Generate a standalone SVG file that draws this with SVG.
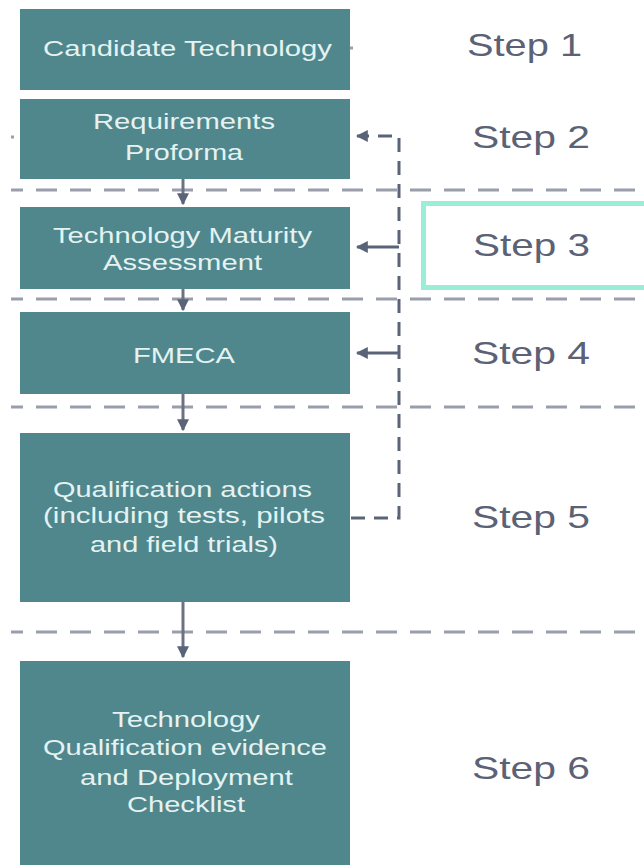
<svg xmlns="http://www.w3.org/2000/svg" width="644" height="865" viewBox="0 0 644 865">
<style>
.box{fill:#4f878d}
.bt{font-family:"Liberation Sans",Arial,sans-serif;font-size:22px;fill:#e4f3f1;text-anchor:start}
.st{font-family:"Liberation Sans",Arial,sans-serif;font-size:32px;fill:#5b6275}
.sep{stroke:#9a9eab;stroke-width:3;stroke-dasharray:21 13;fill:none}
.flow{stroke:#6c7282;stroke-width:3;fill:none}
.fb{stroke:#5a6478;stroke-width:3;fill:none;stroke-dasharray:14 9}
.fbs{stroke:#5a6478;stroke-width:3;fill:none}
</style>
<defs>
<marker id="ah" viewBox="0 0 10 10" refX="9" refY="5" markerWidth="4" markerHeight="4" orient="auto" markerUnits="strokeWidth">
<path d="M0,0 L10,5 L0,10 z" fill="#5a6478"/>
</marker>
</defs>
<rect width="644" height="865" fill="#ffffff"/>
<g id="separators">
<line class="sep" x1="11" y1="190" x2="644" y2="190" stroke-dashoffset="9"/>
<line class="sep" x1="11" y1="299" x2="644" y2="299" stroke-dashoffset="9"/>
<line class="sep" x1="11" y1="407" x2="644" y2="407" stroke-dashoffset="9"/>
<line class="sep" x1="11" y1="632" x2="644" y2="632" stroke-dashoffset="9"/>
</g>
<g id="step3-highlight">
<rect x="423.5" y="203.5" width="240" height="84" fill="none" stroke="#98eed6" stroke-width="5"/>
</g>
<g id="node1">
<rect class="box" x="20" y="9" width="330" height="81"/>
<text class="bt" x="43" y="56" textLength="289" lengthAdjust="spacingAndGlyphs">Candidate Technology</text>
</g>
<g id="node2">
<rect class="box" x="20" y="99" width="330" height="80"/>
<text class="bt" x="93" y="129" textLength="182" lengthAdjust="spacingAndGlyphs">Requirements</text>
<text class="bt" x="125" y="160" textLength="118" lengthAdjust="spacingAndGlyphs">Proforma</text>
</g>
<g id="node3">
<rect class="box" x="20" y="207" width="330" height="82"/>
<text class="bt" x="53" y="243" textLength="259" lengthAdjust="spacingAndGlyphs">Technology Maturity</text>
<text class="bt" x="103" y="270" textLength="159" lengthAdjust="spacingAndGlyphs">Assessment</text>
</g>
<g id="node4">
<rect class="box" x="20" y="312" width="330" height="82"/>
<text class="bt" x="133" y="363" textLength="102" lengthAdjust="spacingAndGlyphs">FMECA</text>
</g>
<g id="node5">
<rect class="box" x="20" y="433" width="330" height="169"/>
<text class="bt" x="53" y="497" textLength="259" lengthAdjust="spacingAndGlyphs">Qualification actions</text>
<text class="bt" x="43" y="523" textLength="282" lengthAdjust="spacingAndGlyphs">(including tests, pilots</text>
<text class="bt" x="90" y="552" textLength="188" lengthAdjust="spacingAndGlyphs">and field trials)</text>
</g>
<g id="node6">
<rect class="box" x="20" y="661" width="330" height="204"/>
<text class="bt" x="112" y="727" textLength="148" lengthAdjust="spacingAndGlyphs">Technology</text>
<text class="bt" x="43" y="755" textLength="284" lengthAdjust="spacingAndGlyphs">Qualification evidence</text>
<text class="bt" x="80" y="785" textLength="213" lengthAdjust="spacingAndGlyphs">and Deployment</text>
<text class="bt" x="127" y="812" textLength="118" lengthAdjust="spacingAndGlyphs">Checklist</text>
</g>
<g id="steps">
<text class="st" x="467" y="56" textLength="115" lengthAdjust="spacingAndGlyphs">Step 1</text>
<text class="st" x="472" y="148" textLength="118" lengthAdjust="spacingAndGlyphs">Step 2</text>
<text class="st" x="473" y="256" textLength="117" lengthAdjust="spacingAndGlyphs">Step 3</text>
<text class="st" x="472" y="364" textLength="118" lengthAdjust="spacingAndGlyphs">Step 4</text>
<text class="st" x="472" y="528" textLength="118" lengthAdjust="spacingAndGlyphs">Step 5</text>
<text class="st" x="472" y="779" textLength="118" lengthAdjust="spacingAndGlyphs">Step 6</text>
</g>
<g id="connectors">
<line class="flow" x1="183" y1="179" x2="183" y2="204" marker-end="url(#ah)"/>
<line class="flow" x1="183" y1="289" x2="183" y2="310" marker-end="url(#ah)"/>
<line class="flow" x1="183" y1="394" x2="183" y2="430" marker-end="url(#ah)"/>
<line class="flow" x1="183" y1="602" x2="183" y2="657" marker-end="url(#ah)"/>
<path class="fb" d="M351,518 H399 V136 H357" marker-end="url(#ah)"/>
<line class="fbs" x1="399" y1="247" x2="357" y2="247" marker-end="url(#ah)"/>
<line class="fbs" x1="399" y1="353" x2="357" y2="353" marker-end="url(#ah)"/>
<line x1="350" y1="48" x2="353" y2="48" stroke="#9a9eab" stroke-width="3"/>
<line x1="11" y1="137" x2="14" y2="137" stroke="#9a9eab" stroke-width="3"/>
</g>
</svg>
